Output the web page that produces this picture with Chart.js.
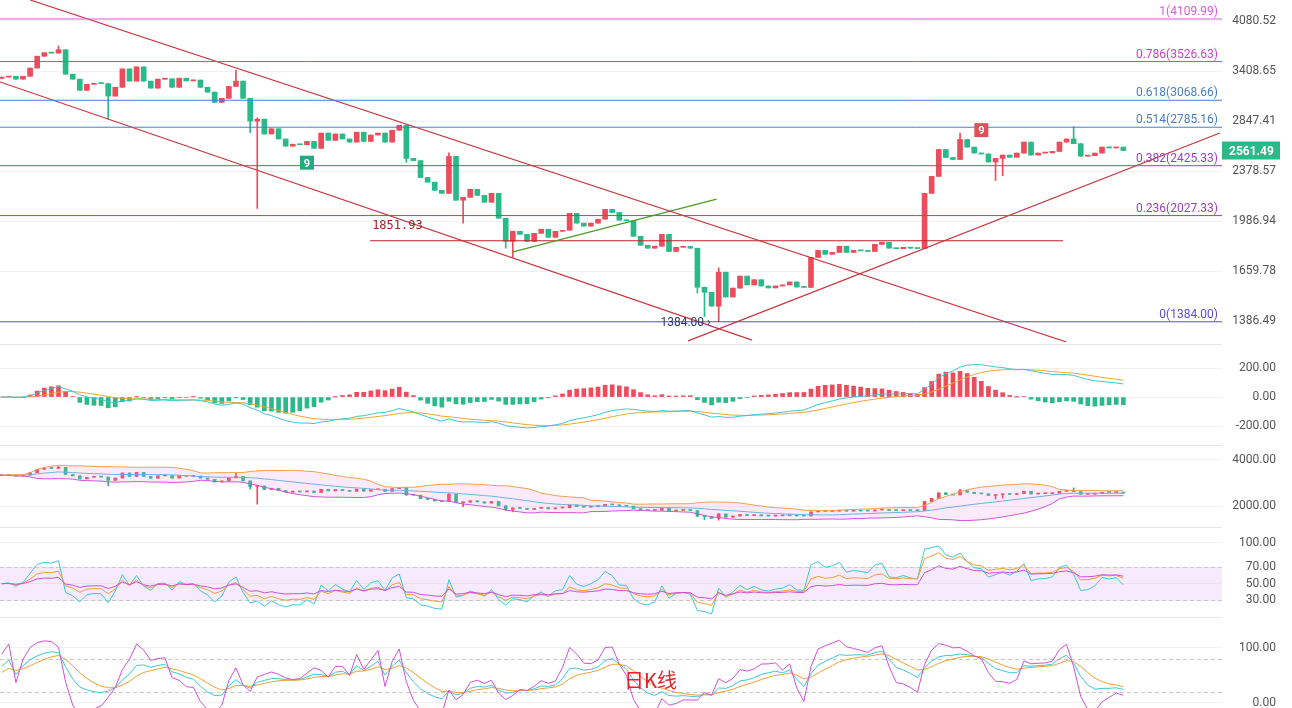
<!DOCTYPE html>
<html>
<head>
<meta charset="utf-8">
<script src="https://cdn.jsdelivr.net/npm/chart.js@4.4.0/dist/chart.umd.min.js"></script>
<style>
  body { margin: 0; background: #fff; overflow: hidden; font-family: Roboto, sans-serif; }
  .panel { position: absolute; left: 0; width: 1292px; }
  .sep { position: absolute; left: 0; width: 1222px; height: 1px; background: #e6e6e6; }
  #wm { position: absolute; left: 624px; top: 665px; color: #e8202a; font: 20px "Noto Sans CJK SC", sans-serif; }
</style>
</head>
<body>
<div class="panel" style="top:0;height:342px"><canvas id="main"></canvas></div>
<div class="sep" style="top:344px"></div>
<div class="panel" style="top:347px;height:95px"><canvas id="macd"></canvas></div>
<div class="sep" style="top:445px"></div>
<div class="panel" style="top:447px;height:78px"><canvas id="boll"></canvas></div>
<div class="sep" style="top:527px"></div>
<div class="panel" style="top:528px;height:87px"><canvas id="rsi"></canvas></div>
<div class="sep" style="top:617px"></div>
<div class="panel" style="top:620px;height:88px"><canvas id="kdj"></canvas></div>
<div id="wm">日K线</div>
<script>
// daily closes
const closes = [3335, 3345, 3310, 3345, 3445, 3595, 3640, 3635, 3680, 3370,
  3310, 3180, 3250, 3262, 3258, 3115, 3215, 3435, 3287, 3460,
  3287, 3205, 3310, 3315, 3215, 3322, 3290, 3300, 3215, 3160,
  3045, 3090, 3225, 3287, 3090, 2847, 2867, 2718, 2770, 2670,
  2602, 2620, 2615, 2647, 2582, 2727, 2657, 2718, 2670, 2640,
  2736, 2647, 2708, 2727, 2640, 2755, 2805, 2490, 2470, 2325,
  2286, 2220, 2196, 2508, 2142, 2165, 2228, 2180, 2127, 2196,
  2008, 1848, 1916, 1895, 1848, 1902, 1930, 1875, 1916, 1923,
  2044, 1973, 1952, 1973, 2001, 2073, 2050, 1994, 1990, 1882,
  1822, 1803, 1816, 1895, 1782, 1809, 1814, 1803, 1567, 1539,
  1464, 1654, 1513, 1562, 1631, 1580, 1610, 1574, 1563, 1574,
  1580, 1597, 1568, 1566, 1744, 1789, 1764, 1776, 1816, 1776,
  1789, 1786, 1782, 1828, 1842, 1803, 1800, 1809, 1803, 1801,
  2196, 2334, 2571, 2498, 2480, 2665, 2593, 2538, 2530, 2458,
  2490, 2520, 2500, 2538, 2640, 2520, 2538, 2540, 2553, 2640,
  2670, 2625, 2510, 2515, 2538, 2593, 2585, 2593, 2561.49];
const firstOpen = 3320;
// long wicks worth drawing (candle index -> price)
const highWicks = {8: 3730, 33: 3420, 36: 2880, 63: 2540, 101: 1680, 135: 2727, 151: 2790};
const lowWicks = {15: 2870, 35: 2730, 36: 2080, 57: 2455, 65: 1973, 71: 1803, 72: 1745,
  98: 1535, 99: 1410, 101: 1384, 140: 2300, 141: 2340};

const priceTicks = [1386.49, 1659.78, 1986.94, 2378.57, 2847.41, 3408.65, 4080.52];
const fibLevels = [1, 0.786, 0.618, 0.514, 0.382, 0.236, 0];
const fibPrices = [4109.99, 3526.63, 3068.66, 2785.16, 2425.33, 2027.33, 1384.00];
const fibColors = ['#d65bd6', '#cc3fcc', '#4a7fc1', '#4a7fc1', '#9c3fc7', '#9c3fc7', '#5b4fc9'];
// drawn trend lines: [index, price] pairs
const trendLines = [
  [[4.0, 4400], [150.0, 1287]],
  [[-0.24, 3277], [105.7, 1296]],
  [[96.7, 1292], [171.6, 2728]]
];
const greenLine = [[71.9, 1778], [100.7, 2151]];
const supportLine = [[51.9, 1851.93], [149.5, 1851.93]];

const UP = '#eb4d5c', DOWN = '#2bb98a';
const XMIN = -0.24, XMAX = 171.9;

const opens = closes.map((c, i) => i === 0 ? firstOpen : closes[i - 1]);
const highs = closes.map((c, i) => Math.max(c, opens[i], highWicks[i] || 0));
const lows = closes.map((c, i) => Math.min(c, opens[i], lowWicks[i] || 1e9));
const colors = closes.map((c, i) => c >= opens[i] ? UP : DOWN);

// indicators
function ema(arr, n) { const k = 2 / (n + 1); let out = []; arr.forEach((v, i) => out.push(i ? out[i - 1] + k * (v - out[i - 1]) : v)); return out; }
function sma1(arr, n, seed) { let out = []; arr.forEach((v, i) => out.push(i ? (v + (n - 1) * out[i - 1]) / n : seed)); return out; }
const ema26 = ema(closes, 26);
const dif = ema(closes, 12).map((v, i) => v - ema26[i]);
const dea = ema(dif, 9);
const hist = dif.map((v, i) => 2 * (v - dea[i]));

const mid = [], upper = [], lower = [];
closes.forEach((c, i) => {
  const w = closes.slice(Math.max(0, i - 19), i + 1);
  const m = w.reduce((a, b) => a + b, 0) / w.length;
  const sd = Math.sqrt(w.reduce((a, b) => a + (b - m) * (b - m), 0) / w.length);
  mid.push(m); upper.push(m + 2 * sd); lower.push(m - 2 * sd);
});

function rsi(n) {
  const up = [0], ab = [0];
  for (let i = 1; i < closes.length; i++) { const d = closes[i] - closes[i - 1]; up.push(Math.max(d, 0)); ab.push(Math.abs(d)); }
  // seed with the average move of the first 24 days so the start is not a spike
  const avgMove = ab.slice(1, 25).reduce((a, b) => a + b, 0) / 24;
  const a = sma1(up, n, avgMove / 2), b = sma1(ab, n, avgMove);
  return a.map((v, i) => b[i] ? v / b[i] * 100 : 50);
}
const rsi6 = rsi(6), rsi12 = rsi(12), rsi24 = rsi(24);

const K = [], D = [], J = [];
closes.forEach((c, i) => {
  const hh = Math.max(...highs.slice(Math.max(0, i - 8), i + 1));
  const ll = Math.min(...lows.slice(Math.max(0, i - 8), i + 1));
  const rsv = hh > ll ? (c - ll) / (hh - ll) * 100 : 50;
  const k = (i ? K[i - 1] : 50) * 2 / 3 + rsv / 3;
  const d = (i ? D[i - 1] : 50) * 2 / 3 + k / 3;
  K.push(k); D.push(d); J.push(3 * k - 2 * d);
});

const pts = arr => arr.map((v, i) => ({x: i, y: v}));
const seg = p => p.map(q => ({x: q[0], y: q[1]}));
const lineDs = (data, color, w) => ({type: 'line', data, borderColor: color, borderWidth: w || 1, pointRadius: 0, fill: false, tension: 0});

function yAxis(min, max, ticks, type) {
  return {
    type: type || 'linear', position: 'right', min, max,
    afterFit: s => { s.width = 54; s.paddingTop = 0; s.paddingBottom = 0; },
    afterBuildTicks: s => { s.ticks = ticks.map(v => ({value: v})); },
    ticks: {crossAlign: 'far', color: '#555', font: {family: 'Roboto', size: 12}, callback: v => Number(v).toFixed(2)},
    grid: {color: '#f1f1f1', drawTicks: false}, border: {display: false}
  };
}
const xAxis = {type: 'linear', min: XMIN, max: XMAX, display: false, offset: false};
const baseOpts = (y) => ({
  responsive: true, maintainAspectRatio: false, animation: false,
  layout: {padding: {right: 16, top: 0, bottom: 0, left: 0}},
  plugins: {legend: {display: false}, tooltip: {enabled: false}},
  scales: {x: xAxis, y}
});

const candleSets = (thick) => [
  {type: 'bar', data: closes.map((c, i) => ({x: i, y: [lows[i], highs[i]]})), backgroundColor: colors, barThickness: 1, grouped: false},
  {type: 'bar', data: closes.map((c, i) => ({x: i, y: [opens[i], c]})), backgroundColor: colors, barThickness: thick, minBarLength: 1, grouped: false}
];

// main chart overlays
const mainDraw = {
  id: 'mainDraw',
  afterDatasetsDraw(chart) {
    const ctx = chart.ctx, y = chart.scales.y, x = chart.scales.x;
    ctx.save();
    ctx.font = '12px Roboto';
    ctx.textAlign = 'right';
    fibPrices.forEach((p, i) => {
      ctx.fillStyle = fibColors[i];
      ctx.fillText(fibLevels[i] + '(' + p.toFixed(2) + ')', 1218, y.getPixelForValue(p) - 4);
    });
    ctx.textAlign = 'left';
    ctx.fillStyle = '#a0222a';
    ctx.font = '12px "DejaVu Sans Mono"';
    ctx.fillText('1851.93', x.getPixelForValue(supportLine[0][0]) + 2, y.getPixelForValue(1851.93) - 12);
    ctx.fillStyle = '#2d3a6b';
    ctx.font = '12px Roboto';
    ctx.textAlign = 'right';
    ctx.fillText('1384.00 ›', x.getPixelForValue(101) - 8, y.getPixelForValue(1384) + 4);
    // TD 9 markers
    const mark = (i, p, col, below) => {
      const px = x.getPixelForValue(i), py = y.getPixelForValue(p) + (below ? 12 : -12);
      ctx.fillStyle = col;
      ctx.fillRect(px - 7, py - 7, 14, 14);
      ctx.fillStyle = '#fff'; ctx.textAlign = 'center'; ctx.font = 'bold 11px Roboto';
      ctx.fillText('9', px, py + 4);
    };
    mark(43, 2560, '#26a983', true);
    mark(138, 2640, '#e0505c', false);
    // last price tag
    const last = closes[closes.length - 1], ly = y.getPixelForValue(last);
    ctx.fillStyle = DOWN;
    ctx.fillRect(1222, ly - 9, 58, 18);
    ctx.fillStyle = '#fff'; ctx.textAlign = 'left'; ctx.font = 'bold 12px Roboto';
    ctx.fillText(last.toFixed(2), 1229, ly + 4);
    ctx.restore();
  }
};

new Chart(document.getElementById('main'), {
  data: {datasets: [
    ...fibPrices.map((p, i) => lineDs([{x: XMIN, y: p}, {x: XMAX, y: p}], fibColors[i], 1)),
    ...trendLines.map(l => lineDs(seg(l), '#c8353c', 1.2)),
    lineDs(seg(greenLine), '#4c9a2a', 1.2),
    lineDs(seg(supportLine), '#c01f26', 1.2),
    ...candleSets(5)
  ]},
  options: baseOpts(yAxis(1287, 4400, priceTicks, 'logarithmic')),
  plugins: [mainDraw]
});

new Chart(document.getElementById('macd'), {
  data: {datasets: [
    lineDs(pts(dif), '#3cc6d6', 1),
    lineDs(pts(dea), '#f0a530', 1),
    {type: 'bar', data: pts(hist), backgroundColor: hist.map(v => v >= 0 ? UP : DOWN), barThickness: 4, grouped: false}
  ]},
  options: baseOpts(yAxis(-310, 345, [-200, 0, 200]))
});

new Chart(document.getElementById('boll'), {
  data: {datasets: [
    {...lineDs(pts(upper), '#f0a04b', 1), fill: '+1', backgroundColor: 'rgba(225,140,225,0.18)'},
    lineDs(pts(lower), '#d04fd8', 1),
    lineDs(pts(mid), '#58b8e0', 1),
    ...candleSets(3)
  ]},
  options: baseOpts(yAxis(1174, 4565, [2000, 4000]))
});

const bandPlugin = (lo, hi, fillBand) => ({
  id: 'band',
  beforeDatasetsDraw(chart) {
    const ctx = chart.ctx, y = chart.scales.y, a = chart.chartArea;
    ctx.save();
    if (fillBand) {
      ctx.fillStyle = 'rgba(220,170,245,0.25)';
      ctx.fillRect(a.left, y.getPixelForValue(hi), a.right - a.left, y.getPixelForValue(lo) - y.getPixelForValue(hi));
    }
    ctx.strokeStyle = '#c8c8c8'; ctx.setLineDash([4, 3]); ctx.lineWidth = 1;
    [lo, hi].forEach(v => { const py = Math.round(y.getPixelForValue(v)) + 0.5; ctx.beginPath(); ctx.moveTo(a.left, py); ctx.lineTo(a.right, py); ctx.stroke(); });
    ctx.restore();
  }
});

new Chart(document.getElementById('rsi'), {
  data: {datasets: [
    lineDs(pts(rsi24), '#d04fd8', 1),
    lineDs(pts(rsi12), '#f0a030', 1),
    lineDs(pts(rsi6), '#3cc6d6', 1)
  ]},
  options: baseOpts(yAxis(11.6, 118.4, [30, 50, 70, 100])),
  plugins: [bandPlugin(30, 70, true)]
});

new Chart(document.getElementById('kdj'), {
  data: {datasets: [
    lineDs(pts(J), '#d04fd8', 1),
    lineDs(pts(D), '#f0a030', 1),
    lineDs(pts(K), '#3cc6d6', 1)
  ]},
  options: baseOpts(yAxis(-9.1, 150.9, [0, 100])),
  plugins: [bandPlugin(20, 80, false)]
});
</script>
</body>
</html>
